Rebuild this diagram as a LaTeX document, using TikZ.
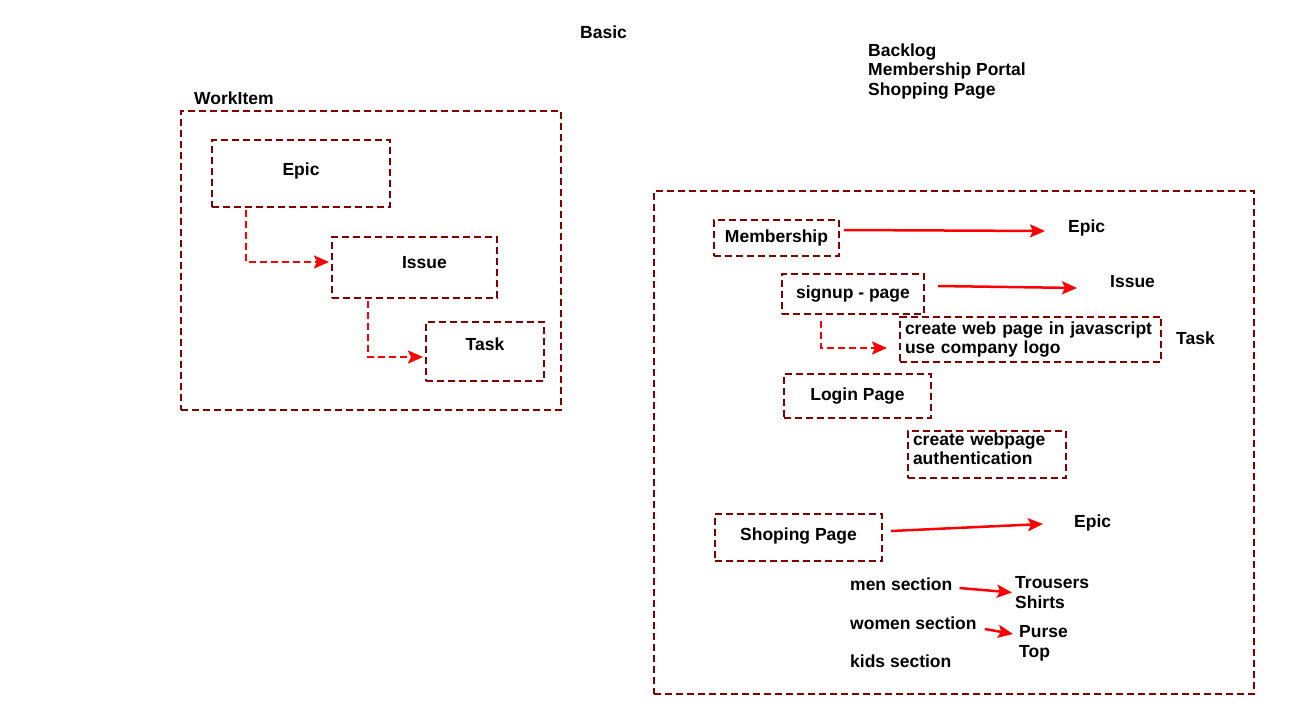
\documentclass[tikz,border=0pt]{standalone}
\usepackage{fontspec}
\setmainfont{Liberation Sans}
\definecolor{boxred}{HTML}{800000}
\definecolor{arrowred}{HTML}{FF0000}
\usetikzlibrary{arrows.meta,calc,positioning}

\begin{document}
\begin{tikzpicture}[x=1pt,y=-1pt,>={Stealth[length=15pt,width=13pt,inset=3pt]},
  every node/.style={font=\fontsize{17.5}{19.5}\selectfont\bfseries},
  box/.style={draw=boxred,line width=2pt,dash pattern=on 7pt off 4pt,inner sep=5pt},
  lbl/.style={inner sep=0pt,anchor=west,align=left},
  link/.style={->,arrowred,line width=2.5pt},
  dlink/.style={->,arrowred,line width=2.2pt,dash pattern=on 7pt off 4pt}]
  \useasboundingbox (0,0) rectangle (1298,709);

  % basic work items
  \node[lbl] (basic) at (580,32) {Basic};
  \node[lbl] (workitemlbl) at (194,98) {WorkItem};
  \node[box,minimum width=380pt,minimum height=299pt] (workitem) at (371,260.5) {};
  \node[box,minimum width=178pt,minimum height=67pt,text depth=8pt] (epic) at (301,173.5) {Epic};
  \node[box,minimum width=165pt,minimum height=61pt,text depth=10pt] (issue) at (414.5,267.5) {\hspace*{20pt}Issue};
  \node[box,minimum width=118pt,minimum height=59pt,text depth=14pt] (task) at (485,351.5) {Task};
  \draw[dlink] ([xshift=-55pt,yshift=-2pt]epic.south) |- ([xshift=-2pt,yshift=5.5pt]issue.west);
  \draw[dlink] ([xshift=-46.5pt,yshift=-2pt]issue.south) |- ([xshift=-2pt,yshift=-5.5pt]task.west);

  % backlog
  \node[lbl] (backlog) at (868,71.5) {Backlog\\Membership Portal\\Shopping Page};
  \node[box,minimum width=600pt,minimum height=503pt] (portal) at (954,442.5) {};

  \node[box,minimum width=125pt,minimum height=36pt] (membership) at (776.5,238) {Membership};
  \node[lbl] (epicA) at (1068,228) {Epic};
  \draw[link] ([xshift=4pt,yshift=8pt]membership.east) -- ([xshift=-23pt,yshift=-3pt]epicA.west);

  \node[box,minimum width=142pt,minimum height=40pt] (signup) at (853,294) {signup - page};
  \node[lbl] (issueA) at (1110,282) {Issue};
  \draw[link] ([xshift=13pt,yshift=8pt]signup.east) -- ([xshift=-33pt,yshift=-6pt]issueA.west);

  \node[box,minimum width=261pt,minimum height=41pt,text width=251pt,align=left] (webtask) at (1030.5,339.5) {create web page in javascript\\use company logo};
  \node[lbl] (taskA) at (1176,338) {Task};
  \draw[dlink] ([xshift=-32pt,yshift=-6pt]signup.south) |- ([xshift=-12pt,yshift=-8.5pt]webtask.west);

  \node[box,minimum width=147pt,minimum height=44pt] (login) at (857.5,396) {Login Page};
  \node[box,minimum width=158pt,minimum height=47pt,text width=148pt,align=left,text depth=31pt,inner ysep=1.5pt] (logintask) at (987,454.5) {create webpage\\authentication};

  % shopping
  \node[box,minimum width=167pt,minimum height=47pt,text depth=7pt] (shoping) at (798.5,537.5) {Shoping Page};
  \node[lbl] (epicB) at (1074,523) {Epic};
  \draw[link] ([xshift=8pt,yshift=6.5pt]shoping.east) -- ([xshift=-31pt,yshift=-1pt]epicB.west);

  \node[lbl] (mensec) at (850,584) {men section};
  \node[lbl] (menitems) at (1015,592.5) {Trousers\\Shirts};
  \draw[link] ([xshift=7pt,yshift=-4pt]mensec.east) -- ([xshift=-3pt]menitems.west);

  \node[lbl] (womensec) at (850,623) {women section};
  \node[lbl] (womenitems) at (1019,643.5) {Purse\\Top};
  \draw[link] ([xshift=8pt,yshift=-6pt]womensec.east) -- ([xshift=-6pt,yshift=9.5pt]womenitems.west);

  \node[lbl] (kidsec) at (850,661) {kids section};
\end{tikzpicture}
\end{document}
